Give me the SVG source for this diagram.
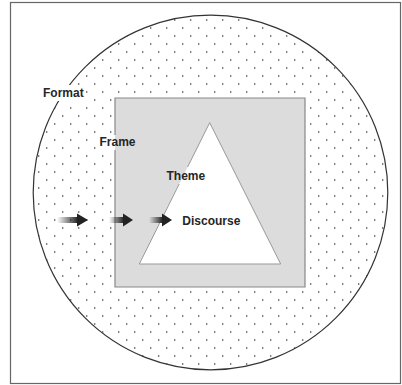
<svg xmlns="http://www.w3.org/2000/svg" width="402" height="385" viewBox="0 0 402 385">
<style>
.lbl{font-family:"Liberation Sans",Arial,sans-serif;font-weight:bold;font-size:12px;fill:#262626}
.shaft{fill:url(#fade)}
.head{fill:#222}
</style>
<defs>
<pattern id="dots" x="0" y="0" width="16" height="16" patternUnits="userSpaceOnUse">
<circle cx="6.7" cy="12" r="0.8" fill="#333"/>
<circle cx="14.7" cy="4" r="0.8" fill="#333"/>
</pattern>
<linearGradient id="fade" x1="0" y1="0" x2="1" y2="0">
<stop offset="0" stop-color="#222" stop-opacity="0"/>
<stop offset="1" stop-color="#222" stop-opacity="1"/>
</linearGradient>
</defs>
<rect width="402" height="385" fill="#fff"/>
<rect x="10.5" y="2.5" width="390" height="381" fill="none" stroke="#666" stroke-width="1.2"/>
<g id="format">
<circle cx="210.5" cy="192.5" r="177.3" fill="#fff"/>
<circle cx="210.5" cy="192.5" r="177.3" fill="url(#dots)" stroke="#333" stroke-width="1.2"/>
<rect x="41" y="85" width="45" height="16" fill="#fff"/>
<text class="lbl" x="43" y="97">Format</text>
</g>
<g id="frame">
<rect x="115" y="98" width="190" height="189" fill="#dcdcdc"/>
<path d="M115,135 V98 H305 V287 H115 V150" fill="none" stroke="#888" stroke-width="1.2"/>
<rect x="99" y="136" width="16" height="13" fill="#fff"/>
<text class="lbl" x="99.5" y="146">Frame</text>
</g>
<g id="theme">
<path d="M187.6,167 L209.7,122.7 L280.7,264 L139.3,264 L179.2,184" fill="#fff" stroke="#999" stroke-width="1"/>
<path d="M187.6,167 L179.2,184 L139.3,264 Z" fill="#fff"/>
<text class="lbl" x="166.5" y="179.5">Theme</text>
</g>
<g id="discourse">
<text class="lbl" x="182.3" y="224.5">Discourse</text>
</g>
<g id="connectors">
<rect class="shaft" x="57" y="217" width="21" height="6"/>
<path class="head" d="M77,213.5 L88,220 L77,226.5 Z"/>
<rect class="shaft" x="109" y="217" width="15" height="6"/>
<path class="head" d="M123,213.5 L133,220 L123,226.5 Z"/>
<rect class="shaft" x="149" y="217" width="14" height="6"/>
<path class="head" d="M162,213.5 L172,220 L162,226.5 Z"/>
</g>
</svg>
